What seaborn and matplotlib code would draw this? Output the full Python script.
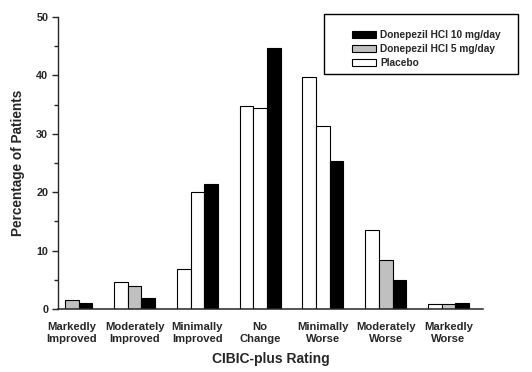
import matplotlib
matplotlib.use("Agg")
import matplotlib.pyplot as plt
import seaborn as sns
import pandas as pd
from matplotlib.patches import Patch, Rectangle
from matplotlib.ticker import MultipleLocator

categories = ["Markedly\nImproved", "Moderately\nImproved", "Minimally\nImproved",
              "No\nChange", "Minimally\nWorse", "Moderately\nWorse", "Markedly\nWorse"]
placebo = [0.0, 4.6, 6.9, 34.7, 39.8, 13.6, 0.8]
dose5 = [1.5, 3.9, 20.0, 34.4, 31.3, 8.4, 0.8]
dose10 = [1.0, 1.9, 21.4, 44.7, 25.3, 5.0, 1.0]
series = ["Placebo", "Donepezil HCl 5 mg/day", "Donepezil HCl 10 mg/day"]

rows = []
for name, vals in zip(series, [placebo, dose5, dose10]):
    for c, v in zip(categories, vals):
        rows.append({"Rating": c, "Series": name, "Value": v})
df = pd.DataFrame(rows)

sns.set_theme(style="ticks")
plt.rcParams["font.family"] = ["Liberation Sans", "DejaVu Sans"]

fig = plt.figure(figsize=(5.32, 3.72), dpi=100)
ax = fig.add_axes([58/532, 1-309/372, (483-58)/532, (309-17)/372])

palette = {"Placebo": "white", "Donepezil HCl 5 mg/day": "#c0c0c0",
           "Donepezil HCl 10 mg/day": "black"}
sns.barplot(data=df, x="Rating", y="Value", hue="Series", hue_order=series,
            order=categories, palette=palette, width=0.655, edgecolor="black",
            linewidth=0.8, saturation=1, legend=False, ax=ax)

# middle-series bars drawn unfilled in the reference for these groups
mid_face = ["#c0c0c0", "#c0c0c0", "white", "white", "white", "#c0c0c0", "#c8c8c8"]
for patch, fc in zip(ax.containers[1].patches, mid_face):
    patch.set_facecolor(fc)

ax.set_xlim(-0.22, 6.55)
ax.set_ylim(0, 50)
ax.yaxis.set_major_locator(MultipleLocator(10))
ax.yaxis.set_minor_locator(MultipleLocator(5))
ax.tick_params(axis="y", which="major", length=4, width=1, labelsize=7.8, pad=3)
ax.tick_params(axis="y", which="minor", length=3, width=1)
ax.tick_params(axis="x", length=0, labelsize=8.1, pad=9)
for lab in ax.get_yticklabels() + ax.get_xticklabels():
    lab.set_fontweight("bold")
for lab in ax.get_xticklabels():
    lab.set_linespacing(1.3)
sns.despine(ax=ax)
ax.spines["left"].set_linewidth(1)
ax.spines["bottom"].set_linewidth(1.1)
ax.set_xlabel("CIBIC-plus Rating", fontsize=10, fontweight="bold", labelpad=6)
ax.set_ylabel("Percentage of Patients", fontsize=9.8, fontweight="bold", labelpad=8)

handles = [Patch(facecolor="black", edgecolor="black", linewidth=0.8),
           Patch(facecolor="#c0c0c0", edgecolor="black", linewidth=0.8),
           Patch(facecolor="white", edgecolor="black", linewidth=0.8)]
labels = ["Donepezil HCl 10 mg/day", "Donepezil HCl 5 mg/day", "Placebo"]
fig.legend(handles, labels, loc="upper left", bbox_to_anchor=(347/532, 1-25/372),
           frameon=False, borderpad=0, handlelength=2.4,
           handleheight=0.65, handletextpad=0.35, labelspacing=0.38,
           prop={"weight": "bold", "size": 7.3})
fig.patches.append(Rectangle((324/532, 1-74/372), (518-324)/532, 60/372,
                             transform=fig.transFigure, fill=False,
                             edgecolor="black", linewidth=1))

fig.savefig("out.png", dpi=100)
